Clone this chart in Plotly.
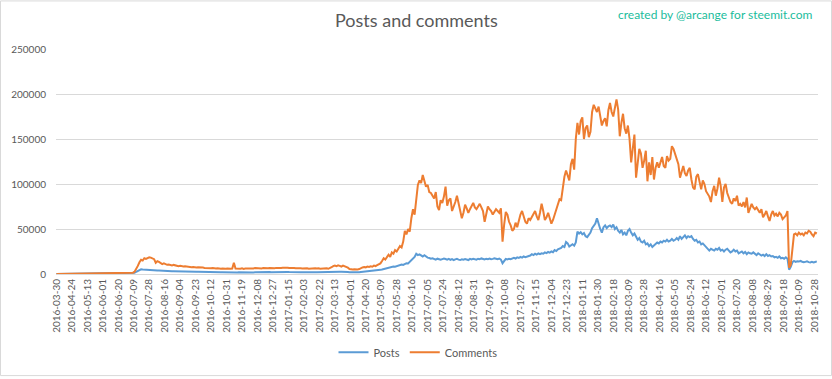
import plotly.graph_objects as go

tick_labels = [
    "2016-03-30", "2016-04-24", "2016-05-13", "2016-06-01", "2016-06-20", "2016-07-09",
    "2016-07-28", "2016-08-16", "2016-09-04", "2016-09-23", "2016-10-12", "2016-10-31",
    "2016-11-19", "2016-12-08", "2016-12-27", "2017-01-15", "2017-02-03", "2017-02-22",
    "2017-03-13", "2017-04-01", "2017-04-20", "2017-05-09", "2017-05-28", "2017-06-16",
    "2017-07-05", "2017-07-24", "2017-08-12", "2017-08-31", "2017-09-19", "2017-10-08",
    "2017-10-27", "2017-11-15", "2017-12-04", "2017-12-23", "2018-01-11", "2018-01-30",
    "2018-02-18", "2018-03-09", "2018-03-28", "2018-04-16", "2018-05-05", "2018-05-24",
    "2018-06-12", "2018-07-01", "2018-07-20", "2018-08-08", "2018-08-29", "2018-09-18",
    "2018-10-09", "2018-10-28",
]
label_step = 19  # categories between two labels
sample_step = 2  # categories between two samples below

comments = [
    50, 80, 100, 120, 150, 150, 180, 200, 200, 220,
    250, 250, 280, 300, 300, 320, 350, 350, 380, 400,
    400, 420, 450, 450, 480, 500, 500, 550, 550, 600,
    600, 650, 650, 700, 700, 750, 750, 800, 850, 900,
    900, 950, 1000, 1050, 1100, 1200, 1300, 1500, 2500, 5200,
    9000, 13000, 15800, 15000, 17500, 16800, 17900, 18500, 18200, 17600,
    16500, 12500, 14200, 13500, 12000, 11000, 11800, 10900, 10200, 10500,
    9800, 9600, 10100, 9400, 9000, 8700, 9100, 8500, 8300, 8600,
    8200, 7900, 8100, 7600, 7800, 7400, 7200, 7500, 7100, 6900,
    7100, 6800, 6600, 6900, 6500, 6400, 6700, 6300, 6200, 6500,
    6000, 5800, 6100, 5700, 5900, 6000, 5600, 5800, 6100, 12500,
    6000, 5800, 6200, 5900, 6300, 5700, 6100, 6000, 5800, 6200,
    6400, 6100, 6600, 6300, 6800, 6500, 6200, 6700, 6400, 6600,
    6300, 6700, 6500, 6900, 6400, 6800, 6600, 7100, 6700, 6900,
    7200, 6800, 7000, 6600, 6900, 6400, 6700, 6300, 6600, 6200,
    6500, 6100, 6400, 6000, 6300, 5900, 6200, 5800, 6100, 6300,
    6000, 6400, 5900, 6200, 6500, 6100, 6300, 5800, 6400, 7500,
    8800, 9300, 8600, 9600, 9000, 8300, 9400, 8700, 8100, 7000,
    5600, 5200, 4900, 5300, 4800, 5100, 5500, 6800, 7300, 7800,
    7400, 8200, 7900, 8600, 8100, 9300, 8800, 9800, 10500, 11800,
    14500, 17500, 16000, 19500, 21500, 19000, 24000, 22500, 26500, 25000,
    28000, 31000, 29500, 36000, 48000, 44000, 50000, 47000, 62000, 72000,
    66000, 85000, 99000, 104000, 101000, 110000, 104000, 97000, 99000, 91000,
    90000, 86000, 84000, 91000, 75000, 71000, 82000, 79000, 86000, 97000,
    76000, 82000, 84000, 70000, 74000, 80000, 87000, 78000, 70000, 62000,
    68000, 77000, 73000, 68000, 72000, 76000, 79000, 74000, 72000, 75000,
    78000, 74000, 70000, 58000, 66000, 75000, 72000, 70000, 66000, 69000,
    72000, 70000, 68000, 73000, 36000, 55000, 69000, 66000, 58000, 54000,
    48000, 50000, 57000, 52000, 60000, 66000, 70000, 64000, 58000, 56000,
    62000, 60000, 64000, 66000, 70000, 64000, 60000, 68000, 78000, 70000,
    60000, 63000, 68000, 62000, 56000, 60000, 66000, 70000, 76000, 83000,
    82000, 96000, 108000, 115000, 110000, 104000, 122000, 128000, 116000, 150000,
    168000, 155000, 170000, 174000, 150000, 162000, 165000, 152000, 158000, 180000,
    188000, 184000, 180000, 186000, 176000, 165000, 170000, 173000, 164000, 182000,
    190000, 180000, 175000, 186000, 194000, 183000, 153000, 168000, 178000, 162000,
    156000, 165000, 150000, 124000, 140000, 155000, 107000, 125000, 139000, 134000,
    118000, 126000, 137000, 103000, 124000, 110000, 130000, 105000, 118000, 124000,
    118000, 124000, 130000, 120000, 118000, 131000, 126000, 128000, 142000, 139000,
    134000, 128000, 122000, 107000, 114000, 120000, 112000, 109000, 115000, 118000,
    105000, 96000, 94000, 108000, 111000, 104000, 94000, 104000, 100000, 92000,
    89000, 86000, 80000, 92000, 98000, 87000, 95000, 107000, 98000, 80000,
    96000, 100000, 90000, 85000, 80000, 78000, 84000, 81000, 87000, 76000,
    78000, 75000, 80000, 74000, 85000, 68000, 72000, 78000, 74000, 72000,
    74000, 70000, 68000, 72000, 63000, 66000, 70000, 64000, 59000, 66000,
    70000, 65000, 67000, 64000, 68000, 66000, 61000, 63000, 65000, 70000,
    7000, 10000, 30000, 44000, 45000, 43000, 46000, 44000, 45000, 43000,
    46000, 45000, 48000, 47000, 44000, 42000, 46000, 45000,
]

posts = [
    30, 40, 50, 60, 70, 80, 90, 100, 100, 110,
    120, 130, 140, 150, 150, 160, 170, 180, 190, 200,
    200, 210, 220, 230, 240, 250, 250, 260, 270, 280,
    290, 300, 310, 320, 330, 340, 350, 360, 380, 400,
    420, 440, 460, 480, 500, 550, 600, 700, 1300, 2500,
    3600, 4600, 5200, 5000, 4800, 4900, 4600, 4400, 4500, 4200,
    4100, 4000, 3800, 3900, 3700, 3600, 3500, 3400, 3300, 3200,
    3200, 3100, 3100, 3000, 2900, 2900, 2800, 2800, 2700, 2700,
    2700, 2700, 2600, 2600, 2500, 2500, 2400, 2500, 2400, 2300,
    2300, 2200, 2300, 2200, 2100, 2200, 2100, 2000, 2100, 2000,
    2000, 1900, 2000, 1900, 2000, 1900, 1800, 1900, 1800, 2100,
    1900, 1800, 1900, 1800, 1900, 1800, 1900, 1800, 1900, 1800,
    1900, 1800, 1900, 2000, 1900, 2000, 1900, 2000, 2100, 2000,
    2000, 2100, 2000, 2100, 2000, 2200, 2100, 2200, 2100, 2200,
    2200, 2100, 2200, 2100, 2200, 2000, 2100, 2000, 2100, 2000,
    2000, 1900, 2000, 1900, 2000, 1900, 2000, 1900, 2000, 2000,
    1900, 2000, 1900, 2000, 2100, 2000, 2100, 1900, 2100, 2300,
    2500, 2600, 2500, 2700, 2600, 2500, 2600, 2500, 2400, 2200,
    1900, 1800, 1700, 1800, 1700, 1800, 1900, 2200, 2400, 2600,
    2500, 2800, 2700, 3000, 2900, 3300, 3200, 3700, 4000, 4600,
    5000, 5500, 6200, 6800, 6500, 7200, 7800, 8300, 8000, 8600,
    9000, 9800, 10500, 10000, 11500, 12000, 11800, 13500, 14700, 16500,
    19000, 22500, 21000, 21800, 20500, 19500, 20800, 19000, 18200, 17800,
    17000, 17500, 16500, 16000, 17000, 16200, 15800, 16500, 17200, 16600,
    16000, 16800, 15800, 16500, 15500, 16200, 16800, 16000, 15500, 16300,
    15800, 16500, 16000, 15500, 16800, 16200, 17000, 16500, 16000, 17000,
    16500, 17300, 16800, 16200, 17000, 16500, 17200, 16400, 16800, 17400,
    17000, 16500, 17200, 16000, 12000, 14500, 16800, 16200, 17000, 16500,
    17500, 18000, 17200, 18500, 17800, 19000, 18200, 19500, 18800, 19200,
    19500, 20500, 22000, 21000, 22500, 21500, 22800, 22000, 23000, 22500,
    24000, 23200, 24500, 23800, 25000, 24200, 26500, 25500, 27500, 28500,
    29000, 31000, 30000, 35500, 34000, 30500, 32000, 33000, 31500, 35000,
    47000, 45000, 46500, 44000, 45500, 42000, 41000, 43000, 46000, 51000,
    53000, 56000, 62000, 55000, 50000, 46000, 52000, 54000, 51000, 53000,
    54000, 52000, 55000, 50000, 52000, 48000, 46000, 49000, 44000, 46000,
    43000, 48000, 50000, 46000, 43000, 45000, 41000, 38000, 40000, 36000,
    35000, 37000, 33000, 34000, 31000, 33000, 30000, 32000, 33000, 35000,
    34000, 36000, 35000, 37000, 36000, 38000, 36000, 37000, 39000, 37000,
    38000, 40000, 38000, 42000, 39000, 41000, 43000, 40000, 42000, 41000,
    42000, 39000, 37000, 38000, 35000, 36000, 33000, 34000, 32000, 31000,
    28000, 26000, 28000, 27000, 26000, 28000, 27000, 29000, 26000, 27000,
    25000, 27000, 28000, 26000, 24000, 25000, 27000, 25000, 26000, 23000,
    24000, 25000, 23000, 24500, 22000, 24000, 23000, 22500, 24000, 22000,
    21000, 23000, 22000, 20500, 21500, 20000, 22000, 20000, 21000, 19500,
    20000, 18500, 19000, 18000, 19500, 17500, 18000, 17000, 18500, 17000,
    4800, 8000, 13000, 14500, 13500, 14200, 13800, 14500, 13600, 13000,
    13500, 14000, 13200, 12800, 13500, 12800, 13400, 14000,
]

x_idx = list(range(0, len(comments) * sample_step, sample_step))
tick_vals = [i * label_step for i in range(len(tick_labels))]

FONT = "Lato, 'Open Sans', sans-serif"
GRAY = "#595959"

fig = go.Figure()
fig.add_trace(go.Scatter(x=x_idx, y=posts, mode="lines", name="Posts",
                         line=dict(color="#5B9BD5", width=2)))
fig.add_trace(go.Scatter(x=x_idx, y=comments, mode="lines", name="Comments",
                         line=dict(color="#ED7D31", width=2)))

W, H = 832, 379
L, R, T, B = 56, 14, 49, 103
pw, ph = W - L - R, H - T - B

def px(xp):
    return (xp - L) / pw

def py(yp):
    return (H - B - yp) / ph

fig.update_layout(
    width=W, height=H,
    margin=dict(l=L, r=R, t=T, b=B),
    paper_bgcolor="white", plot_bgcolor="white",
    font=dict(family=FONT, color=GRAY, size=10),
    showlegend=True,
    legend=dict(orientation="h", x=px(418), xanchor="center", y=py(355), yanchor="middle",
                font=dict(size=11, color=GRAY), bgcolor="rgba(0,0,0,0)",
                itemwidth=30, tracegroupgap=0),
    xaxis=dict(range=[-0.5, 935.5], tickmode="array", tickvals=tick_vals, ticktext=tick_labels,
               tickangle=-90, showgrid=False, zeroline=False, showline=True,
               linecolor="#d9d9d9", linewidth=1, ticks="", tickfont=dict(size=10, color=GRAY),
               fixedrange=True),
    yaxis=dict(range=[0, 250000], dtick=50000, tickformat="d", showgrid=True,
               gridcolor="#d9d9d9", gridwidth=1, zeroline=False, ticks="",
               ticklabelstandoff=9, tickfont=dict(size=10, color=GRAY), fixedrange=True),
    annotations=[
        dict(text="Posts and comments", xref="paper", yref="paper", x=px(416), y=py(20),
             xanchor="center", yanchor="middle", showarrow=False,
             font=dict(size=18, color=GRAY, family=FONT)),
        dict(text="created by @arcange for steemit.com", xref="paper", yref="paper",
             x=px(815), y=py(14), xanchor="right", yanchor="middle", showarrow=False,
             font=dict(size=12, color="#1ABC9C", family=FONT)),
    ],
    shapes=[
        dict(type="rect", xref="paper", yref="paper", x0=px(0.5), x1=px(W - 0.5),
             y0=py(H - 0.5), y1=py(0.5), line=dict(color="#d9d9d9", width=1),
             fillcolor="rgba(0,0,0,0)", layer="below"),
    ],
)

fig.write_html("out.html", config={"displayModeBar": False},
               post_script="document.body.style.margin='0';")
